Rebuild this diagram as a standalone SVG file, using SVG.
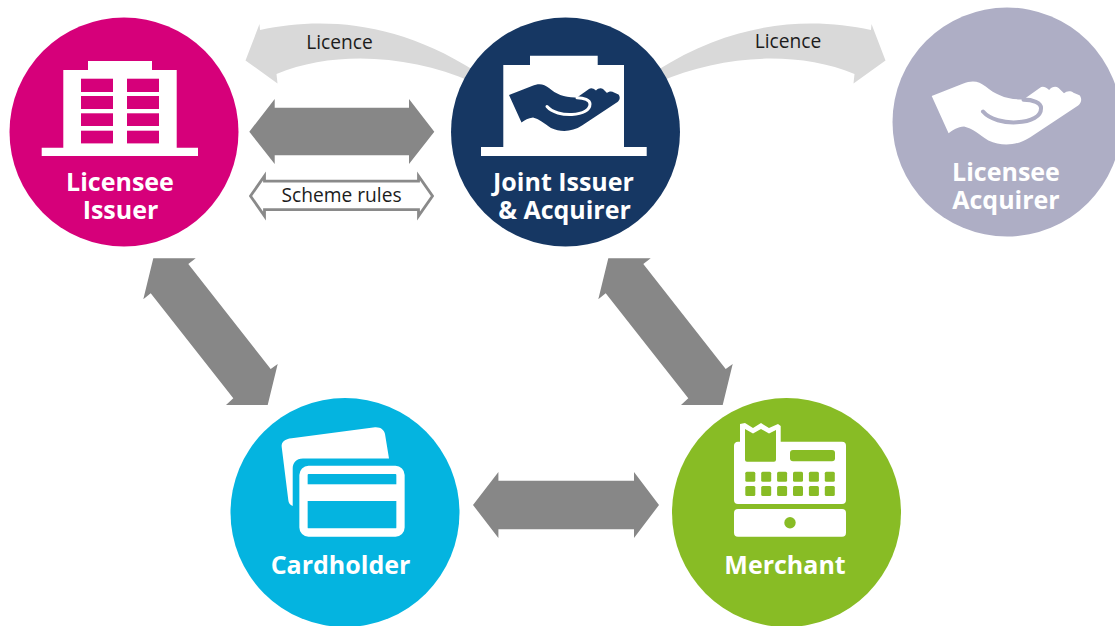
<svg xmlns="http://www.w3.org/2000/svg" width="1115" height="626" viewBox="0 0 1115 626">
<style>
.name{font-family:"Open Sans","Noto Sans","Liberation Sans",sans-serif;font-weight:700;font-size:25px;fill:#fff;text-anchor:middle}
.lab{font-family:"Open Sans","Noto Sans","Liberation Sans",sans-serif;font-size:19.2px;fill:#1c1c1c;text-anchor:middle}
.thick{fill:#878787}
.light{fill:#d9d9d9}
.w{fill:#fff}
</style>
<defs>
<path id="hand" d="M509,95 L532,86 C539,83 544,84 549,88 C556,94 565,98 577,97.5 L589,89 C591,87.500 593,88 596,90.500 C598,88 601,87.500 603,89 L607,93 C609,91 612,91 614,92.500 L618.500,94.500 C620.500,97 620,100 617.500,102 L582,125.500 C572,132 561,132.500 551,128 C544,123 539,119 533,117.500 C528,118 525,120 521.500,122.500 Z"/>
<path id="smile" d="M547,106.500 C552,112.500 563,115 572,114.500 C583,114 590,110 590,104 C590,100 584,97.700 577,97.700" fill="none" stroke-linecap="round"/>
</defs>
<rect width="1115" height="626" fill="#fff"/>
<g id="connectors">
<path class="light" d="M245.500,60.500 L259.500,24 L260,30 C320,17 395,20 475,71 L472,82 C410,55 335,50 276.500,74 L277.500,83.500 Z"/>
<path class="light" d="M885.500,60.500 L871.500,24 L871,30 C811,17 736,20 656,71 L659,82 C721,55 796,50 854.500,74 L853.500,83.500 Z"/>
<text class="lab" x="339.500" y="48.500">Licence</text>
<text class="lab" x="788" y="47.500">Licence</text>
<path class="thick" d="M249.300,131.700 L274.700,99 V107.700 H409 V99 L434.300,131.700 L409,164 V155.300 H274.700 V164 Z"/>
<path d="M250.500,196 L264.500,176 V181.200 H418.500 V176 L432.500,196 L418.500,216 V209.600 H264.500 V216 Z" fill="#fff" stroke="#8a8a8a" stroke-width="2.800"/>
<text class="lab" x="341.500" y="201.500">Scheme rules</text>
<path class="thick" d="M153.300,258.300 H195.700 L188.300,264 L270.700,369 L277.700,364 L267.700,405 H226 L233.300,398.300 L150.700,293.300 L143.300,299.300 Z"/>
<path class="thick" transform="translate(455,0)" d="M153.300,258.300 H195.700 L188.300,264 L270.700,369 L277.700,364 L267.700,405 H226 L233.300,398.300 L150.700,293.300 L143.300,299.300 Z"/>
<path class="thick" d="M473,505 L498.400,472 V480.700 H634 V472 L659,505 L634,538 V529.300 H498.400 V538 Z"/>
</g>
<g id="licensee-issuer">
<circle cx="124" cy="132" r="114.500" fill="#d6007a"/>
<path class="w" d="M88,61 H152 V70 H176.700 V147.700 H198 V156 H41.700 V147.700 H63.300 V70 H88 Z"/>
<g fill="#d6007a">
<rect x="81" y="78.700" width="32" height="13.300"/><rect x="127" y="78.700" width="32" height="13.300"/>
<rect x="81" y="96" width="32" height="13"/><rect x="127" y="96" width="32" height="13"/>
<rect x="81" y="113.300" width="32" height="12.700"/><rect x="127" y="113.300" width="32" height="12.700"/>
<rect x="81" y="130.700" width="32" height="12.700"/><rect x="127" y="130.700" width="32" height="12.700"/>
</g>
<text class="name" x="120" y="191">Licensee</text>
<text class="name" x="120.500" y="219">Issuer</text>
</g>
<g id="joint-issuer-acquirer">
<circle cx="565.500" cy="132" r="114.500" fill="#163763"/>
<path class="w" d="M530,55.700 H597.700 V65 H624 V147 H646.700 V156 H481 V147 H503.300 V65 H530 Z"/>
<use href="#hand" fill="#163763"/>
<use href="#smile" stroke="#fff" stroke-width="3"/>
<text class="name" x="563.500" y="191">Joint Issuer</text>
<text class="name" x="564.500" y="219">&amp; Acquirer</text>
</g>
<g id="licensee-acquirer">
<circle cx="1007" cy="122" r="114.500" fill="#aeaec5"/>
<use href="#hand" fill="#fff" transform="translate(931.700,96) scale(1.35) translate(-509,-95)"/>
<use href="#smile" stroke="#aeaec5" stroke-width="3" transform="translate(931.700,96) scale(1.35) translate(-509,-95)"/>
<text class="name" x="1006" y="181">Licensee</text>
<text class="name" x="1006" y="209">Acquirer</text>
</g>
<g id="cardholder">
<circle cx="345" cy="512.500" r="114.500" fill="#04b4e0"/>
<path class="w" d="M281.700,447 C281,442 285,439 291.700,438.300 L375,427.300 C381,427 384,430 385,434 L389,458.500 H303 C296,458.500 292.700,463 292.700,469 V506 C290,505 288.500,503 288.300,500 Z"/>
<rect x="303.500" y="469.900" width="97" height="62.600" rx="5" fill="#04b4e0" stroke="#fff" stroke-width="8.300"/>
<rect x="305" y="484.300" width="95" height="16.700" class="w"/>
<text class="name" x="340.500" y="574">Cardholder</text>
</g>
<g id="merchant">
<circle cx="786.500" cy="512.500" r="114.500" fill="#88bc25"/>
<path class="w" d="M740,424 L745,423 L753,428 L761,423 L769,428 L778,424 L780.700,426 V441.700 H842 Q846,441.700 846,445.700 V500 Q846,504 842,504 H738 Q734,504 734,500 V445.700 Q734,442 738,441.700 H740 Z"/>
<g fill="#88bc25">
<path d="M745,429 L753,433.500 L761,429 L769,433.500 L776,430 V459.700 Q776,461.700 774,461.700 H747 Q745,461.700 745,459.700 Z"/>
<rect x="790" y="450" width="45" height="11.300" rx="3"/>
<rect x="745.300" y="471.700" width="10" height="10" rx="1.500"/><rect x="761.200" y="471.700" width="10" height="10" rx="1.500"/><rect x="777.100" y="471.700" width="10" height="10" rx="1.500"/><rect x="793" y="471.700" width="10" height="10" rx="1.500"/><rect x="808.900" y="471.700" width="10" height="10" rx="1.500"/><rect x="824.800" y="471.700" width="10" height="10" rx="1.500"/>
<rect x="745.300" y="486" width="10" height="10" rx="1.500"/><rect x="761.200" y="486" width="10" height="10" rx="1.500"/><rect x="777.100" y="486" width="10" height="10" rx="1.500"/><rect x="793" y="486" width="10" height="10" rx="1.500"/><rect x="808.900" y="486" width="10" height="10" rx="1.500"/><rect x="824.800" y="486" width="10" height="10" rx="1.500"/>
</g>
<rect x="734" y="509" width="112" height="27.700" rx="4" class="w"/>
<circle cx="790" cy="522.700" r="5.700" fill="#88bc25"/>
<text class="name" x="785" y="574">Merchant</text>
</g>
</svg>
